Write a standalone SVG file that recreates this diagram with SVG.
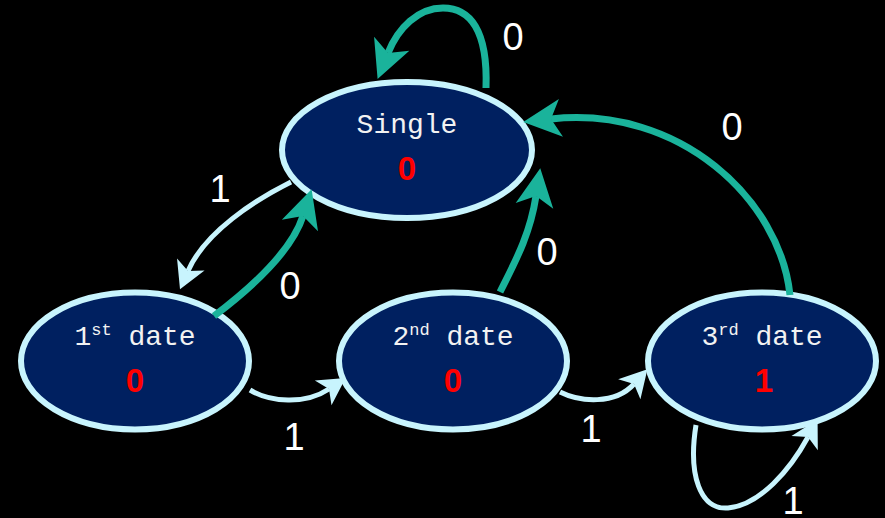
<svg xmlns="http://www.w3.org/2000/svg" width="885" height="518" viewBox="0 0 885 518">
<style>
.node{fill:#002060;stroke:#c8f4fd;stroke-width:6}
.name{font-family:"Liberation Mono","Courier New",monospace;font-size:28px;fill:#f2f2f2;text-anchor:middle}
.sup{font-size:17px}
.val{font-family:"Liberation Sans",Arial,sans-serif;font-weight:bold;font-size:33px;fill:#ff0000;text-anchor:middle}
.teal{fill:none;stroke:#1ab39b;stroke-width:7}
.cyan{fill:none;stroke:#c8f4fd;stroke-width:5}
.lbl{font-family:"Liberation Sans",Arial,sans-serif;font-size:38px;fill:#ffffff;text-anchor:middle}
</style>
<defs>
<marker id="ah-teal" markerUnits="userSpaceOnUse" viewBox="-12 -21 42 42" markerWidth="42" markerHeight="42" refX="0" refY="0" orient="auto">
<path d="M28,0 L-10,-19 L0,0 L-10,19 Z" fill="#1ab39b"/>
</marker>
<marker id="ah-cyan" markerUnits="userSpaceOnUse" viewBox="-9 -17 31 34" markerWidth="31" markerHeight="34" refX="0" refY="0" orient="auto">
<path d="M20,0 L-7,-15 L0,0 L-7,15 Z" fill="#c8f4fd"/>
</marker>
</defs>
<rect x="0" y="0" width="885" height="518" fill="#000000"/>
<g id="node-single">
<ellipse class="node" cx="407" cy="150" rx="125" ry="68"/>
<text class="name" x="407" y="133">Single</text>
<text class="val" x="407" y="180">0</text>
</g>
<g id="node-1st">
<ellipse class="node" cx="135" cy="361" rx="114" ry="68.5"/>
<text class="name" x="135" y="345">1<tspan class="sup" dy="-10">st</tspan><tspan dy="10"> date</tspan></text>
<text class="val" x="135" y="392">0</text>
</g>
<g id="node-2nd">
<ellipse class="node" cx="453" cy="361" rx="114" ry="68.5"/>
<text class="name" x="453" y="345">2<tspan class="sup" dy="-10">nd</tspan><tspan dy="10"> date</tspan></text>
<text class="val" x="453" y="392">0</text>
</g>
<g id="node-3rd">
<ellipse class="node" cx="762" cy="361" rx="114" ry="68.5"/>
<text class="name" x="762" y="345">3<tspan class="sup" dy="-10">rd</tspan><tspan dy="10"> date</tspan></text>
<text class="val" x="764" y="392">1</text>
</g>
<g id="connectors">
<path class="teal" d="M486,88 C488,30 470,8 443,8 C418,8 398,28 388,53" marker-end="url(#ah-teal)"/>
<path class="cyan" d="M291,182 C255,200 205,232 188,271" marker-end="url(#ah-cyan)"/>
<path class="teal" d="M214,316 C255,285 292,250 303,216" marker-end="url(#ah-teal)"/>
<path class="teal" d="M500,292 C515,262 530,235 536,196" marker-end="url(#ah-teal)"/>
<path class="teal" d="M790,295 C780,200 680,105 551,119" marker-end="url(#ah-teal)"/>
<path class="cyan" d="M250,390 C270,402 305,405 329,389" marker-end="url(#ah-cyan)"/>
<path class="cyan" d="M560,392 C580,402 615,405 634,384" marker-end="url(#ah-cyan)"/>
<path class="cyan" d="M696,425 C688,475 700,510 728,508 C760,505 790,470 808,437" marker-end="url(#ah-cyan)"/>
<text class="lbl" x="513" y="50">0</text>
<text class="lbl" x="220" y="202">1</text>
<text class="lbl" x="290" y="299">0</text>
<text class="lbl" x="547" y="265">0</text>
<text class="lbl" x="732" y="140">0</text>
<text class="lbl" x="294" y="450">1</text>
<text class="lbl" x="591" y="442">1</text>
<text class="lbl" x="793" y="514">1</text>
</g>
</svg>
